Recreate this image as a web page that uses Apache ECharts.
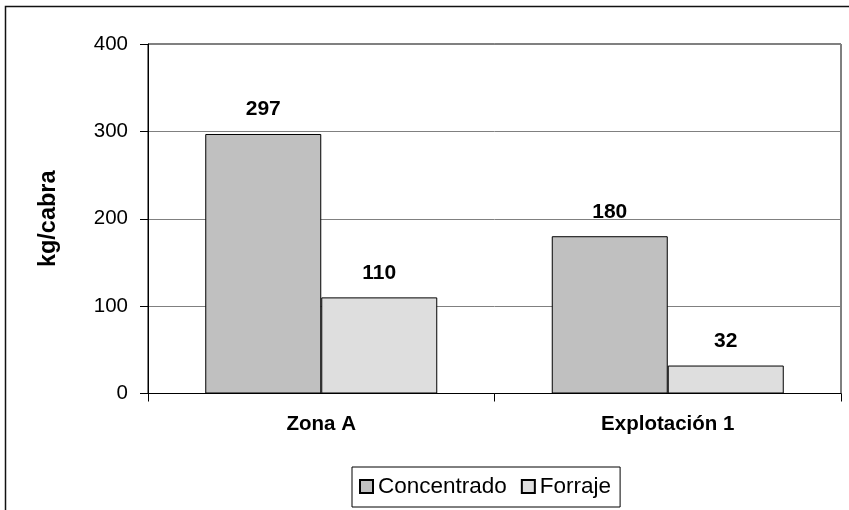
<!DOCTYPE html>
<html>
<head>
<meta charset="utf-8">
<script src="https://cdn.jsdelivr.net/npm/echarts@6/dist/echarts.min.js"></script>
<style>
html,body{margin:0;padding:0;background:#fff;}
#chart{width:849px;height:510px;}
</style>
</head>
<body>
<div id="chart"></div>
<script>
const categories = ['Zona A', 'Explotación 1'];
const seriesNames = ['Concentrado', 'Forraje'];
const concentrado = [297, 180];
const forraje = [110, 32];
const yTicks = [0, 100, 200, 300, 400];

const FONT = "'Liberation Sans', Arial, sans-serif";
const chart = echarts.init(document.getElementById('chart'), null, {renderer: 'canvas'});

const labelStyle = {
  show: true, position: 'top', distance: 14,
  fontFamily: FONT, fontSize: 21, fontWeight: 'bold', color: '#000'
};

chart.setOption({
  animation: false,
  backgroundColor: '#fff',
  graphic: [{
    type: 'rect', z: 100, silent: true,
    shape: {x: 5.5, y: 6.5, width: 900, height: 600},
    style: {fill: 'none', stroke: '#111', lineWidth: 1.5}
  }],
  grid: {
    left: 148, top: 44, right: 8, bottom: 116.5,
    show: true, borderColor: '#000', borderWidth: 1, backgroundColor: 'transparent'
  },
  legend: {
    data: seriesNames,
    left: 352, top: 467,
    orient: 'horizontal',
    itemWidth: 13, itemHeight: 13, itemGap: 14,
    padding: [8, 9, 9, 7],
    borderColor: '#000', borderWidth: 1,
    textStyle: {fontFamily: FONT, fontSize: 22.5, color: '#000'},
    icon: 'rect'
  },
  xAxis: {
    type: 'category',
    data: categories,
    axisLine: {show: true, lineStyle: {color: '#000', width: 1}},
    axisTick: {show: true, length: 8, lineStyle: {color: '#000'}},
    axisLabel: {margin: 20, fontFamily: FONT, fontSize: 20.5, fontWeight: 'bold', color: '#000'},
    splitLine: {show: false}
  },
  yAxis: {
    type: 'value',
    min: yTicks[0], max: yTicks[yTicks.length - 1], interval: 100,
    name: 'kg/cabra',
    nameLocation: 'middle',
    nameGap: 87,
    nameRotate: 90,
    nameTextStyle: {fontFamily: FONT, fontSize: 23.5, fontWeight: 'bold', color: '#000'},
    axisLine: {show: true, lineStyle: {color: '#000', width: 1}},
    axisTick: {show: true, length: 8, lineStyle: {color: '#000'}},
    axisLabel: {margin: 20, fontFamily: FONT, fontSize: 20.5, color: '#000'},
    splitLine: {show: true, lineStyle: {color: '#808080', width: 1}}
  },
  series: [
    {
      name: seriesNames[0], type: 'bar', data: concentrado,
      barWidth: 116, barGap: '0%',
      itemStyle: {color: '#C0C0C0', borderColor: '#000', borderWidth: 1},
      label: labelStyle
    },
    {
      name: seriesNames[1], type: 'bar', data: forraje,
      barWidth: 116, barGap: '0%',
      itemStyle: {color: '#DEDEDE', borderColor: '#000', borderWidth: 1},
      label: labelStyle
    }
  ]
});
</script>
</body>
</html>
